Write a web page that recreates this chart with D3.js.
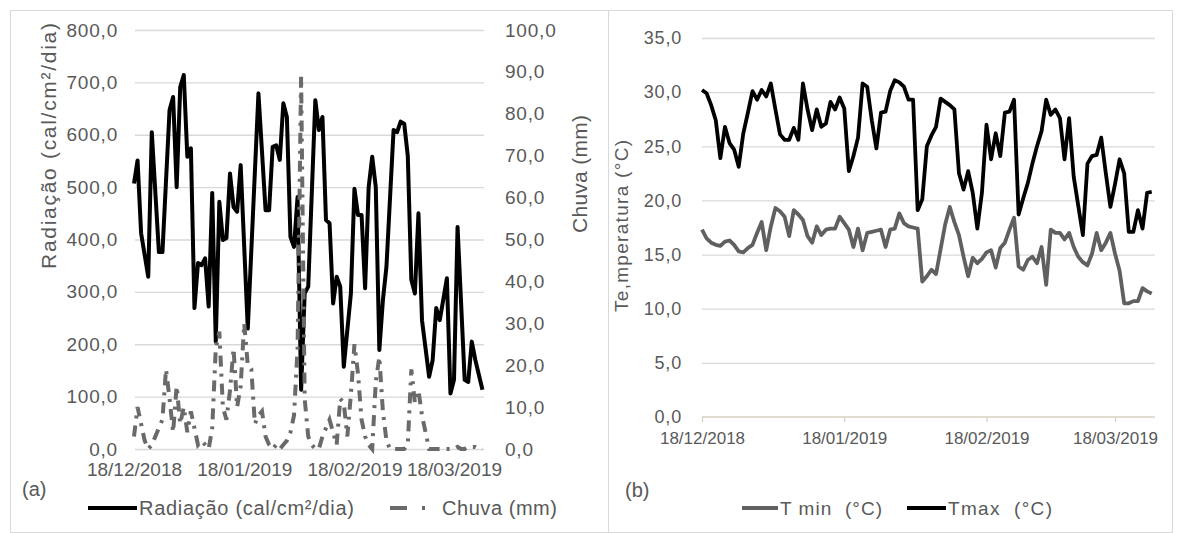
<!DOCTYPE html>
<html>
<head>
<meta charset="utf-8">
<script src="https://cdn.jsdelivr.net/npm/d3@7"></script>
<style>
body { margin: 0; background: #fff; }
text { font-family: "Liberation Sans", Arial, sans-serif; fill: #595959; }
</style>
</head>
<body>
<svg></svg>
<script>
// (a) radiacao: days after 18/12/2018 where the line turns, and the values there
var radDays = [0,1,2,4,5,7,8,10,11,12,13,14,15,16,17,18,19,20,21,22,23,24,25,26,27,28,29,30,32,35,37,38,39,40,41,42,43,44,45,46,47,48,49,51,52,53,54,55,56,57,58,59,61,62,63,64,65,66,67,68,69,70,71,73,74,75,76,77,78,79,80,81,83,84,85,86,88,89,90,91,93,94,95,96,98]
var radValues = [507,551,412,329,605,376,376,647,672,500,691,714,558,574,269,355,351,364,272,489,205,472,399,403,526,462,453,542,230,679,456,456,577,580,552,660,634,405,386,481,113,297,310,666,609,634,437,431,278,329,310,157,297,497,447,447,307,500,558,500,189,284,348,609,605,625,621,560,323,297,450,246,138,170,269,246,326,106,132,424,132,128,205,170,113]

// (a) chuva, one value per day from 18/12/2018
var rainValues = [3,10,6,2,0,1,3,5,7,19, 12,4,15,6,10,4,9,5,1,2, 1,0,5,24,28,10,7,14,24,10,
  15,30,20,19,6,8,9,3,1,0, 1,0,1,2,4,8,24,89,12,3, 1,0,0,3,5,7,4,1,12,11,
  3,13,25,18,7,3,1,0,16,22, 9,2,0,0,0,0,0,1,19,11, 14,8,4,0,0,0,0,0,0,0,
  0,0.5,0,0,0.5,0.5,0.5,0,0]

// (b) temperaturas, one value per day from 18/12/2018
var tmaxValues = [30.2,29.9,28.8,27.4,23.9,26.8,25.3,24.7,23.1,26.2,
  28.1,30.1,29.3,30.2,29.6,30.8,28.4,26.1,25.6,25.6,
  26.7,25.6,30.8,28.4,26.5,28.4,26.8,27.1,29.1,28.4,
  29.5,28.5,22.7,24.1,25.8,30.8,30.5,27.4,24.8,28.1,
  28.2,30.1,31.1,30.9,30.5,29.3,29.3,19.1,20.1,25.0,
  26.0,26.8,29.4,29.1,28.8,28.4,22.5,21.0,22.7,20.7,
  17.4,20.7,27.0,23.8,26.2,24.1,28.1,28.2,29.3,18.7,
  20.2,21.6,23.4,25.0,26.4,29.3,27.9,28.4,27.6,23.8,
  27.6,22.2,19.5,16.8,23.4,24.1,24.2,25.8,22.5,19.4,
  21.5,23.8,22.5,17.1,17.1,19.1,17.4,20.7,20.8]
var tminValues = [17.3,16.5,16.1,15.9,15.8,16.2,16.3,15.9,15.3,15.2,
  15.6,15.9,17.0,18.0,15.4,17.6,19.3,19.0,18.5,16.7,
  19.1,18.7,18.2,16.7,16.1,17.6,16.8,17.3,17.4,17.4,
  18.5,17.9,17.3,15.7,17.4,15.4,17.0,17.1,17.2,17.3,
  15.7,17.3,17.4,18.8,17.9,17.6,17.5,17.4,12.5,13.0,
  13.6,13.2,15.5,17.8,19.4,18.0,16.8,14.8,13.0,14.7,
  14.2,14.6,15.2,15.4,13.8,15.6,16.1,17.3,18.4,13.9,
  13.6,14.5,14.8,14.2,15.7,12.2,17.3,17.0,17.0,16.4,
  17.0,15.7,14.8,14.3,14.0,15.1,17.0,15.4,16.1,17.0,
  15.1,13.5,10.5,10.5,10.7,10.7,11.9,11.6,11.4]

var dateLabels = ["18/12/2018","18/01/2019","18/02/2019","18/03/2019"]
var radTicks = [0,100,200,300,400,500,600,700,800]
var rainTicks = [0,10,20,30,40,50,60,70,80,90,100]
var tempTicks = [0,5,10,15,20,25,30,35]

var parseDate = d3.utcParse("%d/%m/%Y")
var startDate = parseDate(dateLabels[0])
var dayDate = function(i)
{
    return d3.utcDay.offset(startDate, i)
}
var tickDates = dateLabels.map(parseDate)

var br = d3.formatLocale({decimal: ",", thousands: ".", grouping: [3], currency: ["R$", ""]})
var fmt = br.format(".1f")
var fmtDate = d3.utcFormat("%d/%m/%Y")

var svg = d3.select("svg")
    .attr("width", 1179)
    .attr("height", 533)

// panel frames
svg.append("rect").attr("x", 10.5).attr("y", 10.5).attr("width", 598).attr("height", 522)
    .attr("fill", "none").attr("stroke", "#d9d9d9")
svg.append("rect").attr("x", 608.5).attr("y", 10.5).attr("width", 564).attr("height", 522)
    .attr("fill", "none").attr("stroke", "#d9d9d9")

var styleGrid = function(g)
{
    g.select(".domain").remove()
    g.selectAll("line").attr("stroke", "#d9d9d9").attr("stroke-width", 1.3)
}
var styleLabels = function(g, size)
{
    g.select(".domain").remove()
    g.selectAll("line").remove()
    g.selectAll("text").attr("fill", "#595959").style("font-size", size + "px")
        .attr("font-family", null)
}

/* ---------- (a) radiacao e chuva ---------- */
var xA = d3.scaleUtc()
    .domain([tickDates[0], tickDates[3]])
    .range([134, 454])
var yRad = d3.scaleLinear().domain([0, 800]).range([449, 30])
var yRain = d3.scaleLinear().domain([0, 100]).range([449, 30])

svg.append("g")
    .attr("transform", "translate(484,0)")
    .call(d3.axisLeft(yRad).tickValues(radTicks).tickSize(484 - 135).tickFormat(""))
    .call(styleGrid)

svg.append("g")
    .attr("transform", "translate(118,0)")
    .call(d3.axisLeft(yRad).tickValues(radTicks).tickSize(0).tickPadding(0).tickFormat(fmt))
    .call(styleLabels, 19)
    .selectAll("text").attr("letter-spacing", "0.8")

svg.append("g")
    .attr("transform", "translate(505,0)")
    .call(d3.axisRight(yRain).tickValues(rainTicks).tickSize(0).tickPadding(0).tickFormat(fmt))
    .call(styleLabels, 19)
    .selectAll("text").attr("letter-spacing", "0.8")

svg.append("g")
    .attr("transform", "translate(0,462)")
    .call(d3.axisBottom(xA).tickValues(tickDates).tickSize(0).tickPadding(0).tickFormat(fmtDate))
    .call(styleLabels, 19)

var radLine = d3.line()
    .x(function(d, i) { return xA(dayDate(radDays[i])) })
    .y(function(d) { return yRad(d) })

svg.append("path")
    .datum(radValues)
    .attr("d", radLine)
    .attr("fill", "none")
    .attr("stroke", "#000")
    .attr("stroke-width", 4)
    .attr("stroke-linejoin", "round")

var rainLine = d3.line()
    .x(function(d, i) { return xA(dayDate(i)) })
    .y(function(d) { return yRain(d) })

svg.append("path")
    .datum(rainValues)
    .attr("d", rainLine)
    .attr("fill", "none")
    .attr("stroke", "#6a6a6a")
    .attr("stroke-width", 4)
    .attr("stroke-dasharray", "11,7,3,7")

svg.append("text")
    .attr("transform", "translate(56,146) rotate(-90)")
    .attr("text-anchor", "middle")
    .attr("textLength", 246)
    .style("font-size", "21px")
    .attr("fill", "#4a4a4a")
    .text("Radiação (cal/cm²/dia)")

svg.append("text")
    .attr("transform", "translate(587,174) rotate(-90)")
    .attr("text-anchor", "middle")
    .attr("textLength", 118)
    .style("font-size", "21px")
    .attr("fill", "#4a4a4a")
    .text("Chuva (mm)")

svg.append("text").attr("x", 22).attr("y", 496)
    .style("font-size", "20px").attr("fill", "#262626").text("(a)")

svg.append("line").attr("x1", 88).attr("x2", 137).attr("y1", 508).attr("y2", 508)
    .attr("stroke", "#000").attr("stroke-width", 4)
svg.append("text").attr("x", 139).attr("y", 515).attr("textLength", 215)
    .style("font-size", "20px").text("Radiação (cal/cm²/dia)")

svg.append("line").attr("x1", 390).attr("x2", 426).attr("y1", 508).attr("y2", 508)
    .attr("stroke", "#6a6a6a").attr("stroke-width", 4).attr("stroke-dasharray", "17,15,3,15")
svg.append("text").attr("x", 442).attr("y", 515).attr("textLength", 115)
    .style("font-size", "20px").text("Chuva (mm)")

/* ---------- (b) temperaturas ---------- */
var xB = d3.scaleUtc()
    .domain([tickDates[0], tickDates[3]])
    .range([702, 1115])
var yT = d3.scaleLinear().domain([0, 35]).range([417, 38])

svg.append("g")
    .attr("transform", "translate(1155,0)")
    .call(d3.axisLeft(yT).tickValues(tempTicks.slice(1)).tickSize(1155 - 702).tickFormat(""))
    .call(styleGrid)

var xBase = svg.append("g")
    .attr("transform", "translate(0,417)")
    .call(d3.axisBottom(xB).tickValues(tickDates).tickSize(5).tickFormat(""))
xBase.select(".domain").remove()
xBase.selectAll("line").attr("stroke", "#d8d2c4").attr("stroke-width", 1.3)
xBase.append("line").attr("x1", 702).attr("x2", 1155).attr("stroke", "#d8d2c4").attr("stroke-width", 1.5)

svg.append("g")
    .attr("transform", "translate(682,0)")
    .call(d3.axisLeft(yT).tickValues(tempTicks).tickSize(0).tickPadding(0).tickFormat(fmt))
    .call(styleLabels, 18)
    .selectAll("text").attr("letter-spacing", "0.8")

svg.append("g")
    .attr("transform", "translate(0,432)")
    .call(d3.axisBottom(xB).tickValues(tickDates).tickSize(0).tickPadding(0).tickFormat(fmtDate))
    .call(styleLabels, 17)

var tLine = d3.line()
    .x(function(d, i) { return xB(dayDate(i)) })
    .y(function(d) { return yT(d) })

svg.append("path")
    .datum(tminValues)
    .attr("d", tLine)
    .attr("fill", "none")
    .attr("stroke", "#606060")
    .attr("stroke-width", 3.8)
    .attr("stroke-linejoin", "round")

svg.append("path")
    .datum(tmaxValues)
    .attr("d", tLine)
    .attr("fill", "none")
    .attr("stroke", "#000")
    .attr("stroke-width", 3.8)
    .attr("stroke-linejoin", "round")

svg.append("text")
    .attr("transform", "translate(628,226) rotate(-90)")
    .attr("text-anchor", "middle")
    .attr("textLength", 172)
    .style("font-size", "19px")
    .attr("fill", "#4a4a4a")
    .text("Te,mperatura (°C)")

svg.append("text").attr("x", 625).attr("y", 497)
    .style("font-size", "20px").attr("fill", "#262626").text("(b)")

svg.append("line").attr("x1", 742).attr("x2", 778).attr("y1", 508).attr("y2", 508)
    .attr("stroke", "#606060").attr("stroke-width", 4)
svg.append("text").attr("x", 780).attr("y", 515).attr("textLength", 102)
    .style("font-size", "19px").attr("xml:space", "preserve").text("T min  (°C)")

svg.append("line").attr("x1", 907).attr("x2", 946).attr("y1", 508).attr("y2", 508)
    .attr("stroke", "#000").attr("stroke-width", 4)
svg.append("text").attr("x", 948).attr("y", 515).attr("textLength", 104)
    .style("font-size", "19px").attr("xml:space", "preserve").text("Tmax  (°C)")
</script>
</body>
</html>
